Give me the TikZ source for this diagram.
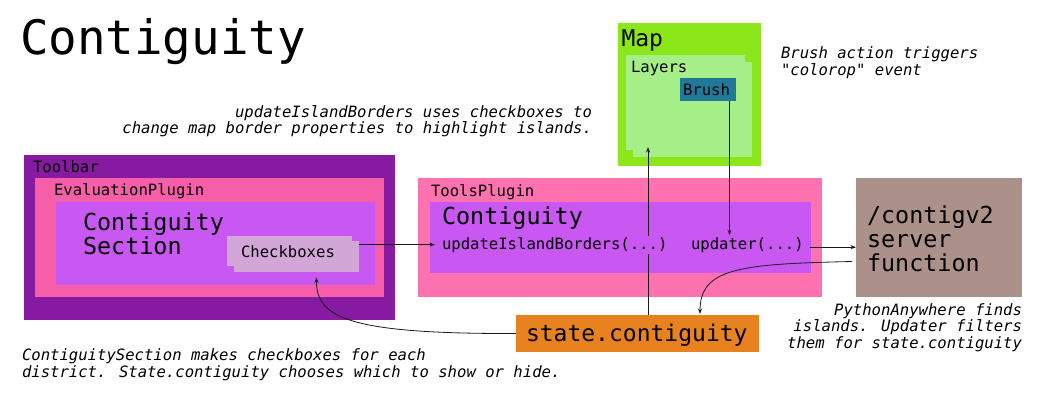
\documentclass[tikz,border=0pt]{standalone}
\usepackage{fontspec}
\setmainfont{DejaVu Sans Mono}[Ligatures=TeXOff, ItalicFont={DejaVu Sans Mono Oblique}]
\usetikzlibrary{arrows.meta}
\definecolor{cToolbar}{HTML}{861AA0}
\definecolor{cEval}{HTML}{F75EA9}
\definecolor{cPurple}{HTML}{C957F2}
\definecolor{cCheck}{HTML}{D3A6D8}
\definecolor{cTools}{HTML}{FF72B0}
\definecolor{cServer}{HTML}{AB918A}
\definecolor{cState}{HTML}{E8821E}
\definecolor{cMap}{HTML}{8BE61A}
\definecolor{cLayers}{HTML}{A6EE88}
\definecolor{cBrush}{HTML}{1F7A99}
\definecolor{cLine}{HTML}{1A1A1A}
\tikzset{
  box/.style={inner sep=0pt, outer sep=0pt, anchor=north west, draw=none},
  lbl/.style={inner sep=0pt, outer sep=0pt, anchor=base west, text=black},
  small/.style={font=\fontsize{15.6}{15}\selectfont},
  big/.style={font=\fontsize{23.4}{24}\selectfont},
  note/.style={inner sep=0pt, outer sep=0pt, text=black, font=\fontsize{15.6}{15}\selectfont\itshape},
  conn/.style={draw=cLine, line width=0.8pt, -{Stealth[length=5.5pt,width=4pt]}},
  plain/.style={draw=cLine, line width=0.8pt}
}
\begin{document}
\begin{tikzpicture}[x=1pt,y=-1pt]
\useasboundingbox (0,0) rectangle (1046,404);
% title
\node[lbl, font=\fontsize{47.5}{47.5}\selectfont] (title) at (20,55) {Contiguity};
% Map
\node[box, fill=cMap, minimum width=143pt, minimum height=143pt] (map) at (618,23) {};
\node[box, fill=cLayers, minimum width=119pt, minimum height=95pt] (layers1) at (626,55) {};
\node[box, fill=cLayers, minimum width=119pt, minimum height=95pt] (layers2) at (633,62) {};
\node[box, fill=cBrush, minimum width=56pt, minimum height=23pt] (brush) at (680,78) {};
\node[lbl, font=\fontsize{23}{23}\selectfont] (maplbl) at (621.5,47) {Map};
\node[lbl, small] (layerslbl) at (631,72) {Layers};
\node[lbl, small] (brushlbl) at (683,95) {Brush};
% Toolbar
\node[box, fill=cToolbar, minimum width=371pt, minimum height=165pt] (toolbar) at (24,155) {};
\node[box, fill=cEval, minimum width=349pt, minimum height=119pt] (evalp) at (35,178) {};
\node[box, fill=cPurple, minimum width=319pt, minimum height=83pt] (csec) at (56,202) {};
\node[box, fill=cCheck, minimum width=125pt, minimum height=30pt] (cb1) at (227,236) {};
\node[box, fill=cCheck, minimum width=125pt, minimum height=31pt] (cb2) at (234,241) {};
\node[lbl, small] (toolbarlbl) at (33,172) {Toolbar};
\node[lbl, small] (evallbl) at (54,195) {EvaluationPlugin};
\node[lbl, big, align=left] (cseclbl) at (83,254) {Contiguity\\Section};
\node[lbl, small] (cblbl) at (241,257) {Checkboxes};
% ToolsPlugin
\node[box, fill=cTools, minimum width=404pt, minimum height=119pt] (tools) at (418,178) {};
\node[box, fill=cPurple, minimum width=381pt, minimum height=71pt] (tinner) at (430,202) {};
\node[lbl, small] (toolslbl) at (431,196) {ToolsPlugin};
\node[lbl, big] (tcontig) at (442,224) {Contiguity};
% server
\node[box, fill=cServer, minimum width=166pt, minimum height=119pt] (server) at (856,178) {};
\node[lbl, big, align=left] (serverlbl) at (867,271) {/contigv2\\server\\function};
% state
\node[box, fill=cState, minimum width=243pt, minimum height=37pt] (state) at (516,315) {};
\node[lbl, font=\fontsize{23}{23}\selectfont] (statelbl) at (526,341) {state.contiguity};
% helper coordinates
\coordinate (stateTop) at ([xshift=10.5pt]state.north);
\coordinate (layTip) at ([yshift=10pt]layers2.south);
% vertical connector state -> layers (drawn under the method label)
\draw[conn] (stateTop) -- (stateTop |- layTip);
% method labels
\node[lbl, small, fill=cPurple, inner ysep=1.5pt] (ui) at (442,249) {updateIslandBorders(...)};
\node[lbl, small] (upd) at (691,249) {updater(...)};
\coordinate (brushOut) at ([xshift=21.5pt]brush.south);
\coordinate (updTop) at ([yshift=2pt]upd.north);
\coordinate (uiIn) at ([xshift=-7pt]ui.west);
\coordinate (updOut) at ([xshift=6pt,yshift=-2.5pt]upd.east);
\coordinate (srvOut) at ([xshift=-4pt,yshift=-24pt]server.west);
\coordinate (stateIn) at ([xshift=184pt,yshift=1pt]state.north west);
\coordinate (cbIn) at ([xshift=20pt,yshift=-5.5pt]cb2.south);
% connectors
\draw[conn] (cb2.east |- ui.west) -- (uiIn);
\draw[conn] (brushOut) -- (brushOut |- updTop);
\draw[conn] (updOut) -- (updOut -| server.west);
\draw[conn] (srvOut) .. controls (740,264) and (700,268) .. (stateIn);
\draw[conn] (state.west) .. controls (350,334) and (316,318) .. (cbIn);
% notes
\node[note, anchor=base east, align=right] (note1) at (592,133.5) {updateIslandBorders uses checkboxes to\\change map border properties to highlight islands.};
\node[note, anchor=base west, align=left] (note2) at (781,75) {Brush action triggers\\"colorop" event};
\node[note, anchor=base east, align=right] (note3) at (1022,348) {PythonAnywhere finds\\islands. Updater filters\\them for state.contiguity};
\node[note, anchor=base west, align=left] (note4) at (22,377) {ContiguitySection makes checkboxes for each\\district. State.contiguity chooses which to show or hide.};
\end{tikzpicture}
\end{document}
